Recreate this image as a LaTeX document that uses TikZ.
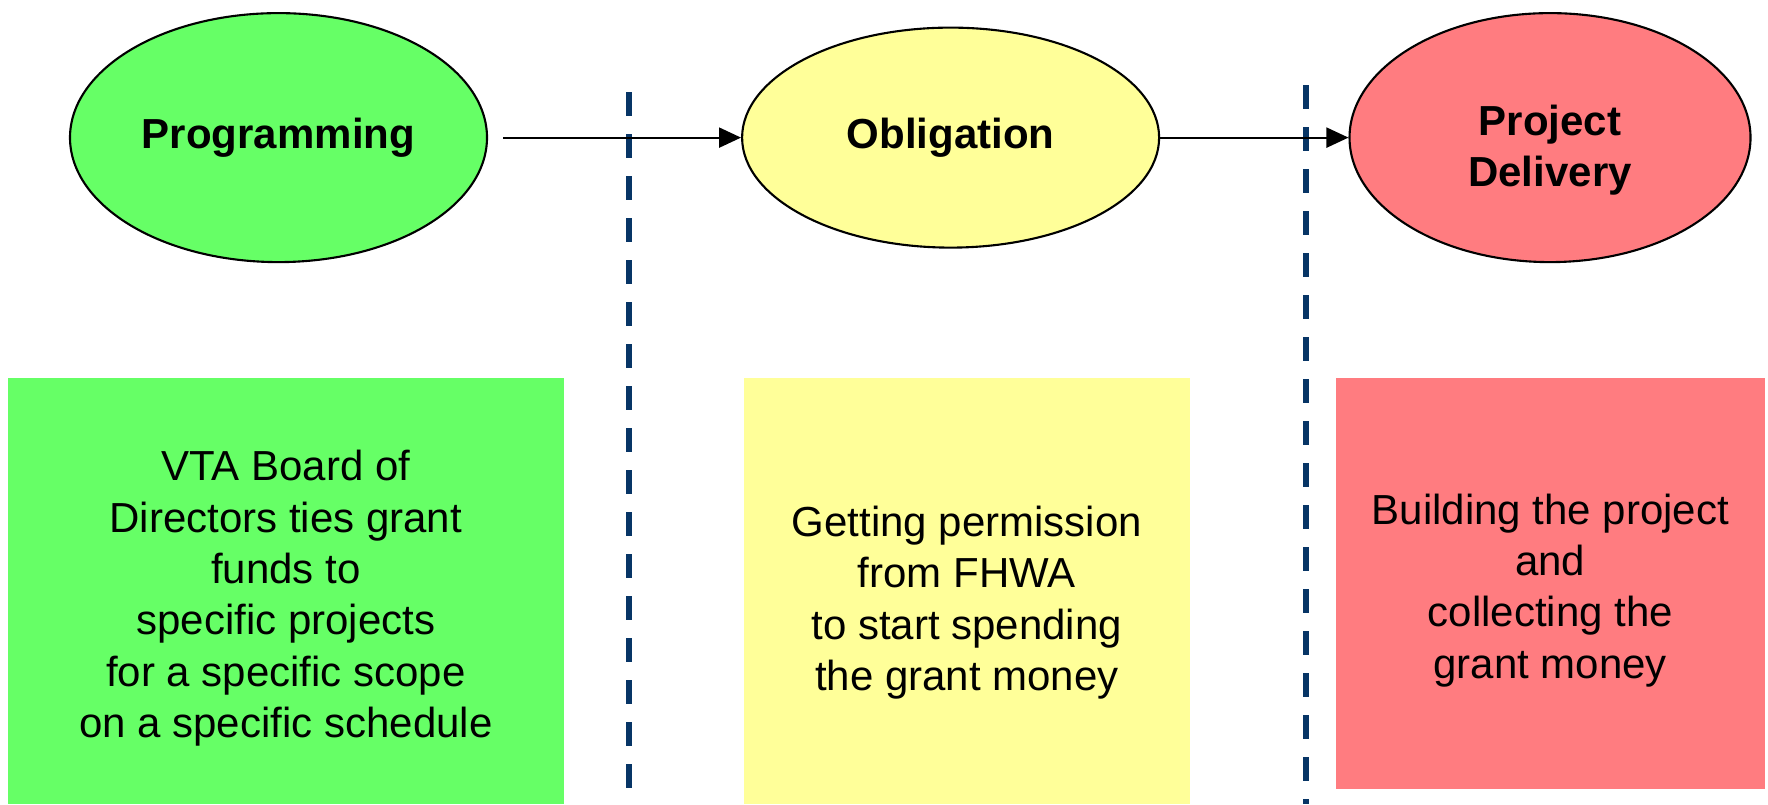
\documentclass[tikz,border=0pt]{standalone}
\usepackage{fontspec}
\setmainfont{Liberation Sans}
\usepackage{xcolor}
\usetikzlibrary{shapes,arrows,positioning,shapes.geometric,arrows.meta}

\definecolor{progGreen}{HTML}{66FF66}
\definecolor{obligYellow}{HTML}{FFFF99}
\definecolor{delivRed}{HTML}{FF7C80}
\definecolor{divBlue}{HTML}{073566}

\begin{document}
\begin{tikzpicture}[
			phase/.style={draw, ellipse, line width=0.6pt, inner sep=0pt, minimum width=4.17cm, align=center, font=\fontsize{11.95}{14.6}\selectfont\bfseries},
			desc/.style={rectangle, inner sep=0pt, minimum height=4.263cm, align=center, font=\fontsize{11.95}{14.6}\selectfont},
			arrow/.style={-{Triangle[length=2.2mm, width=2mm]}, line width=0.6pt},
			divider/.style={draw=divBlue, line width=0.06cm, dash pattern=on 2.4mm off 1.8mm}]
			\useasboundingbox (0,0) rectangle (17.68,8.04);
			% phases
			\node[phase, fill=progGreen, minimum height=2.49cm] (prog) at (2.785,6.664) {Programming};
			\node[phase, fill=obligYellow, minimum height=2.2cm] (oblig) at (9.506,6.664) {Obligation};
			\node[phase, fill=delivRed, minimum width=4.01cm, minimum height=2.49cm, text height=30.4pt] (deliv) at (15.5,6.664) {Project\\Delivery};
			
			% descriptions
			\node[desc, fill=progGreen, minimum width=5.559cm, text height=85.9pt] (progText) at (2.8585,2.1315) {VTA Board of\\Directors ties grant\\funds to\\specific projects\\for a specific scope\\on a specific schedule};
			\node[desc, fill=obligYellow, minimum width=4.456cm, text height=59.2pt] (obligText) at (9.668,2.1315) {Getting permission\\from FHWA\\to start spending\\the grant money};
			\node[desc, fill=delivRed, minimum width=4.286cm, minimum height=4.116cm, text height=56.3pt] (delivText) at (15.503,2.205) {Building the project\\and\\collecting the\\grant money};
			
			% dividers
			\coordinate (divA top) at (6.29,7.12);
			\coordinate (divA bottom) at (6.29,0);
			\coordinate (divB top) at (13.057,7.19);
			\coordinate (divB bottom) at (13.057,0);
			\draw[divider] (divA top) -- (divA bottom);
			\draw[divider] (divB top) -- (divB bottom);
			
			\draw[arrow, shorten <=1.5mm] (prog) -- (oblig);
			\draw[arrow] (oblig) -- (deliv);
		\end{tikzpicture}
\end{document}
